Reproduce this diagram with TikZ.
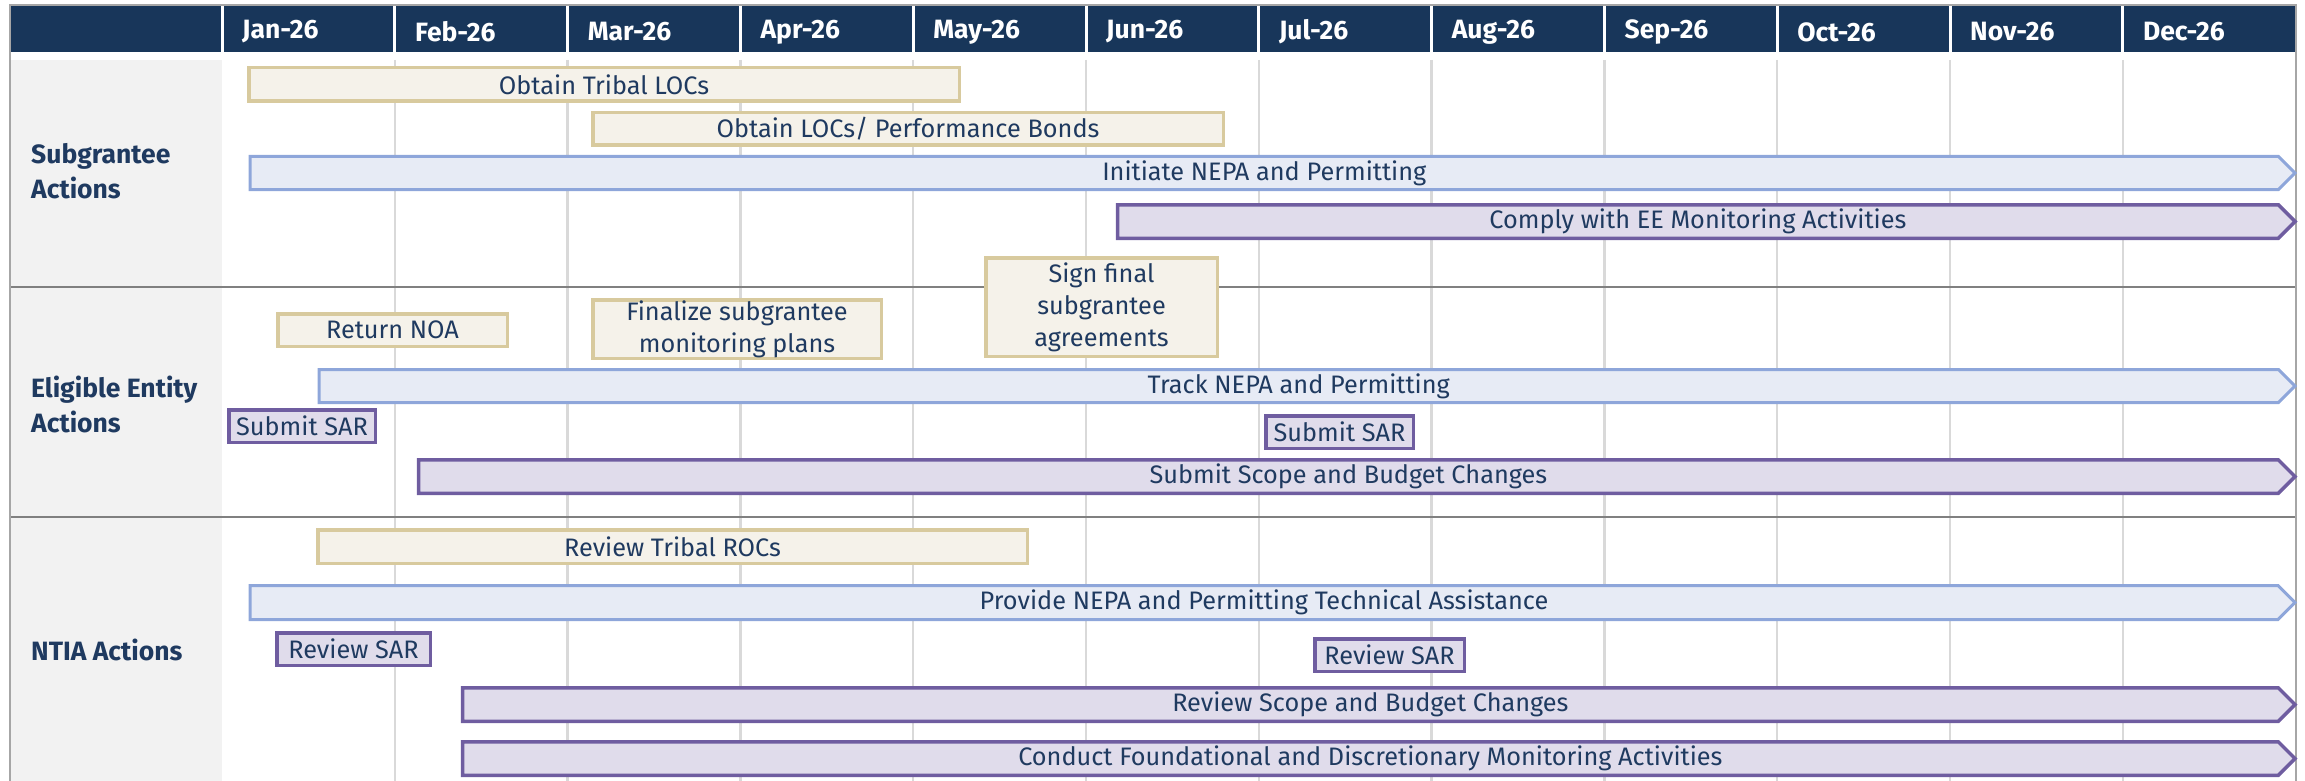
\documentclass[tikz,border=0pt]{standalone}
\usepackage{fontspec}
\setmainfont{Fira Sans}
\usetikzlibrary{shapes.symbols}

\definecolor{hdrnavy}{HTML}{18365A}
\definecolor{txtnavy}{HTML}{1F3A60}
\definecolor{frame}{HTML}{A6A6A6}
\definecolor{rowline}{HTML}{808080}
\definecolor{gridgray}{HTML}{D9D9D9}
\definecolor{labelfill}{HTML}{F2F2F2}
\definecolor{tanline}{HTML}{D8CA9E}
\definecolor{tanfill}{HTML}{F5F2EA}
\definecolor{blueline}{HTML}{8EA6DA}
\definecolor{bluefill}{HTML}{E7EBF5}
\definecolor{purpline}{HTML}{6F5DA0}
\definecolor{purpfill}{HTML}{E0DCEB}

\tikzset{
  bartext/.style={text=txtnavy, font=\fontsize{25.3}{32}\selectfont, inner sep=0pt, align=center},
  tanbox/.style={bartext, rectangle, draw=tanline, fill=tanfill, line width=3.5pt},
  purpbox/.style={bartext, rectangle, draw=purpline, fill=purpfill, line width=3.5pt},
  bluearrow/.style={bartext, signal, signal to=east, signal pointer angle=90, draw=blueline, fill=bluefill, line width=3pt, anchor=west},
  purparrow/.style={bartext, signal, signal to=east, signal pointer angle=90, draw=purpline, fill=purpfill, line width=3.5pt, anchor=west},
  rowlabel/.style={text=txtnavy, font=\fontsize{26.5}{35}\selectfont\bfseries, align=left, anchor=west, inner sep=0pt},
  monthlabel/.style={text=white, font=\fontsize{26.5}{30}\selectfont\bfseries, anchor=west, inner sep=0pt}
}

\begin{document}
\begin{tikzpicture}[x=1pt, y=-1pt]
\useasboundingbox (0,0) rectangle (2305,781);

% table
\fill [labelfill] (10,60) rectangle (222,781);
\foreach \i in {1,...,11} \draw [gridgray, line width=2.5pt] (222+172.8*\i,60) -- (222+172.8*\i,781);
\fill [hdrnavy] (10,5) rectangle (2296,52);
\foreach \i in {0,...,11} \draw [white, line width=3pt] (222+172.8*\i,5) -- (222+172.8*\i,52);
\draw [rowline, line width=2.5pt] (10,287) -- (2296,287);
\draw [rowline, line width=2.5pt] (10,517) -- (2296,517);
\draw [frame, line width=2.5pt] (10,781) -- (10,5) -- (2296,5) -- (2296,781);

\foreach \m [count=\i from 0] in {Jan,Feb,Mar,Apr,May,Jun,Jul,Aug,Sep,Oct,Nov,Dec}
  \node [monthlabel] (mon\i) at (242+172.8*\i,32) {\m-26};

\node [rowlabel] (subgr) at (31,171) {Subgrantee\\Actions};
\node [rowlabel] (eligible) at (31,404) {Eligible Entity\\Actions};
\node [rowlabel] (ntia) at (31,650) {NTIA Actions};

% bars: name/x left/x right/y top/y bottom/text
\foreach \nm/\xa/\xb/\ya/\yb/\txt in {
  tribal/247/961/66/103/{Obtain Tribal LOCs},
  bonds/591/1225/111/147/{Obtain LOCs/ Performance Bonds},
  signfinal/984/1219/256/358/{Sign final\\subgrantee\\agreements},
  noa/276/509/312/348/{Return NOA},
  finalize/591/883/298/360/{Finalize subgrantee\\monitoring plans},
  rocs/316/1029/528/565/{Review Tribal ROCs}}
  \node [tanbox, minimum width=\xb-\xa-3.5, minimum height=\yb-\ya-3.5] (\nm) at ({(\xa+\xb)/2},{(\ya+\yb)/2}) {\txt};

\foreach \nm/\xa/\xb/\ya/\yb/\txt in {
  initiate/247/2295/155/191/{Initiate NEPA and Permitting},
  track/316/2295/368/404/{Track NEPA and Permitting},
  provide/247/2295/584/621/{Provide NEPA and Permitting Technical Assistance}}
  \node [bluearrow, minimum width=\xb-\xa-3, minimum height=\yb-\ya-3] (\nm) at (\xa+1.5,{(\ya+\yb)/2}) {\txt};

\foreach \nm/\xa/\xb/\ya/\yb/\txt in {
  comply/1114/2295/203/240/{Comply with EE Monitoring Activities},
  scope/415/2295/458/495/{Submit Scope and Budget Changes},
  revscope/459/2295/686/723/{Review Scope and Budget Changes},
  conduct/459/2295/740/777/{Conduct Foundational and Discretionary Monitoring Activities}}
  \node [purparrow, minimum width=\xb-\xa-3.5, minimum height=\yb-\ya-3.5] (\nm) at (\xa+1.75,{(\ya+\yb)/2}) {\txt};

\foreach \nm/\xa/\xb/\ya/\yb/\txt in {
  sar/227/377/408/444/{Submit SAR},
  sarjul/1264/1415/414/450/{Submit SAR},
  revsar/275/432/631/667/{Review SAR},
  revsarjul/1313/1466/637/673/{Review SAR}}
  \node [purpbox, minimum width=\xb-\xa-3.5, minimum height=\yb-\ya-3.5] (\nm) at ({(\xa+\xb)/2},{(\ya+\yb)/2}) {\txt};

\end{tikzpicture}
\end{document}
